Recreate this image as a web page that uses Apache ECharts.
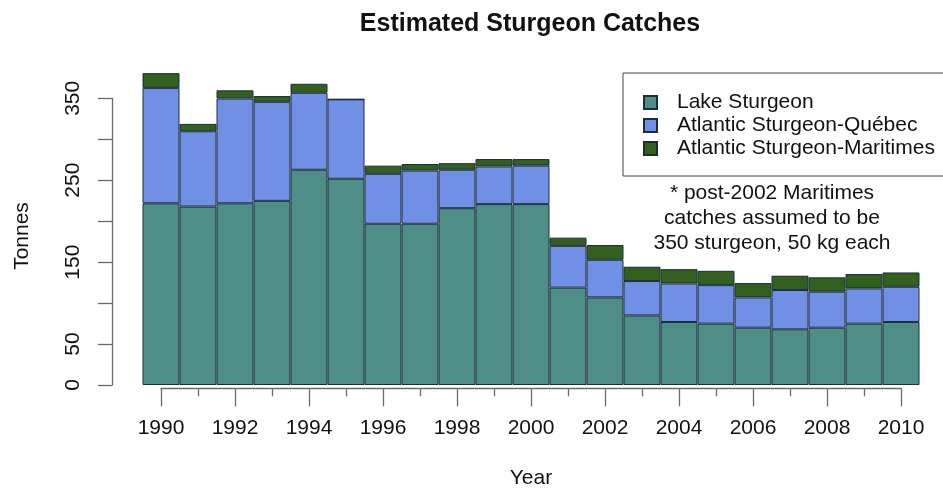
<!DOCTYPE html>
<html>
<head>
<meta charset="utf-8">
<script src="https://cdn.jsdelivr.net/npm/echarts@6/dist/echarts.min.js"></script>
<style>
  html, body { margin: 0; padding: 0; background: #fff; }
  #chart { width: 943px; height: 491px; }
</style>
</head>
<body>
<div id="chart"></div>
<script>
var years = ['1990', '1991', '1992', '1993', '1994', '1995', '1996', '1997', '1998', '1999', '2000',
	'2001', '2002', '2003', '2004', '2005', '2006', '2007', '2008', '2009', '2010'];
var lakeSturgeon = [222, 218, 222, 225, 263, 252, 197, 197, 216, 221, 221, 119, 107, 85, 77, 75, 70, 68, 70, 75, 77];
var quebecSturgeon = [141, 92, 128, 121, 94, 97, 61, 65, 47, 46, 47, 51, 46, 42, 47, 47, 37, 48, 44, 43, 43];
var maritimesSturgeon = [18, 9, 10, 7, 11, 0, 10, 8, 8, 9, 8, 10, 18, 17.5, 17.5, 17.5, 17.5, 17.5, 17.5, 17.5, 17.5];
var seriesNames = ['Lake Sturgeon', 'Atlantic Sturgeon-Qu\u00e9bec', 'Atlantic Sturgeon-Maritimes'];
var yLabels = [0, 50, 150, 250, 350];

var chart = echarts.init(document.getElementById('chart'));
var font = 'Liberation Sans, Arial, Helvetica, sans-serif';
var axisGray = '#6a6a6a';
var barBorder = '#1a2e3a';

var option = {
	animation: false,
	textStyle: { fontFamily: font },
	title: {
		text: 'Estimated Sturgeon Catches',
		left: 525,
		textAlign: 'center',
		top: 7,
		textStyle: { fontFamily: font, fontSize: 25, fontWeight: 'bold', color: '#111' }
	},
	legend: {
		orient: 'vertical',
		left: 623,
		top: 73,
		padding: [19, 40, 17, 20],
		itemGap: 2,
		itemWidth: 13,
		itemHeight: 13,
		icon: 'rect',
		borderColor: '#444',
		borderWidth: 1,
		borderRadius: 0,
		textStyle: { fontFamily: font, fontSize: 21, color: '#111', padding: [0, 0, 0, 15] },
		data: seriesNames
	},
	graphic: [
		{
			type: 'text',
			x: 772,
			y: 218,
			style: {
				text: '* post-2002 Maritimes\ncatches assumed to be\n350 sturgeon, 50 kg each',
				font: '21px ' + font,
				fill: '#111',
				textAlign: 'center',
				textVerticalAlign: 'middle',
				lineHeight: 25
			}
		},
		{
			type: 'text',
			x: 22,
			y: 236,
			rotation: Math.PI / 2,
			style: {
				text: 'Tonnes',
				font: '21px ' + font,
				fill: '#111',
				textAlign: 'center',
				textVerticalAlign: 'middle'
			}
		}
	],
	grid: [
		{ left: 142.5, right: 23.5, top: 57.6, bottom: 106 },
		{ left: 161, width: 740, top: 378, height: 10.3 },
		{ left: 112, width: 10, top: 98.3, bottom: 106 }
	],
	xAxis: [
		{
			gridIndex: 0,
			type: 'category',
			data: years,
			show: false,
			boundaryGap: true
		},
		{
			gridIndex: 1,
			type: 'value',
			min: 1990,
			max: 2010,
			interval: 2,
			name: 'Year',
			nameLocation: 'middle',
			nameGap: 79,
			nameTextStyle: { fontFamily: font, fontSize: 21, color: '#111' },
			axisLine: { show: true, lineStyle: { color: axisGray, width: 1.3 } },
			axisTick: { show: true, length: 18, lineStyle: { color: axisGray, width: 1.3 } },
			minorTick: { show: true, splitNumber: 2, length: 8, lineStyle: { color: axisGray, width: 1.3 } },
			splitLine: { show: false },
			axisLabel: {
				margin: 29,
				fontFamily: font,
				fontSize: 21,
				color: '#111',
				formatter: function (v) { return String(v); }
			}
		},
		{
			gridIndex: 2,
			type: 'value',
			show: false
		}
	],
	yAxis: [
		{
			gridIndex: 0,
			type: 'value',
			min: 0,
			max: 400,
			show: false
		},
		{
			gridIndex: 1,
			type: 'value',
			show: false
		},
		{
			gridIndex: 2,
			type: 'value',
			min: 0,
			max: 350,
			interval: 50,
			axisLine: { show: true, lineStyle: { color: axisGray, width: 1.3 } },
			axisTick: { show: true, length: 14, lineStyle: { color: axisGray, width: 1.3 } },
			splitLine: { show: false },
			axisLabel: {
				margin: 28,
				rotate: 90,
				fontFamily: font,
				fontSize: 21,
				color: '#111',
				formatter: function (v) { return yLabels.indexOf(v) >= 0 ? String(v) : ''; }
			}
		}
	],
	series: [
		{
			name: seriesNames[0],
			type: 'bar',
			stack: 'catch',
			xAxisIndex: 0,
			yAxisIndex: 0,
			barCategoryGap: '0%',
			itemStyle: { color: '#4e8e86', borderColor: barBorder, borderWidth: 1 },
			data: lakeSturgeon
		},
		{
			name: seriesNames[1],
			type: 'bar',
			stack: 'catch',
			xAxisIndex: 0,
			yAxisIndex: 0,
			barCategoryGap: '0%',
			itemStyle: { color: '#7090e6', borderColor: barBorder, borderWidth: 1 },
			data: quebecSturgeon
		},
		{
			name: seriesNames[2],
			type: 'bar',
			stack: 'catch',
			xAxisIndex: 0,
			yAxisIndex: 0,
			barCategoryGap: '0%',
			itemStyle: { color: '#33601f', borderColor: barBorder, borderWidth: 1 },
			data: maritimesSturgeon
		}
	]
};

chart.setOption(option);
</script>
</body>
</html>
